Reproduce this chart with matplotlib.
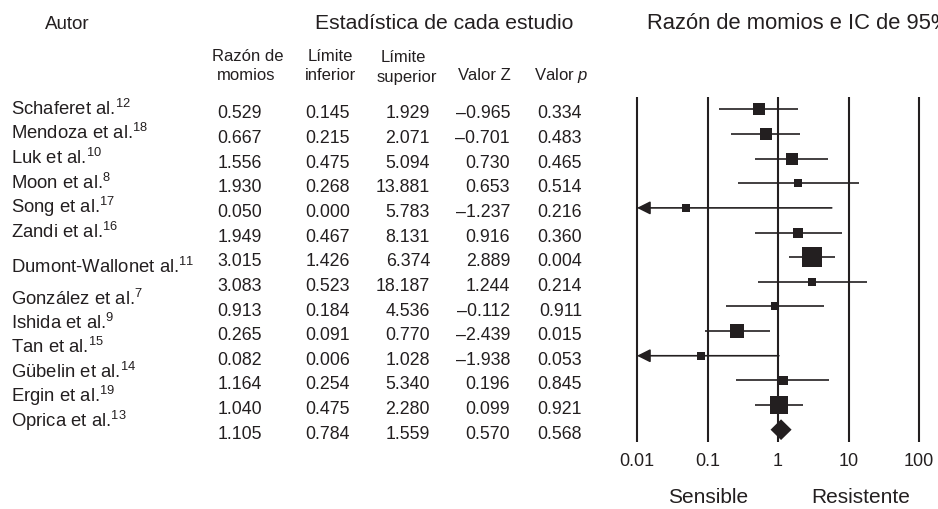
import matplotlib
matplotlib.use("Agg")
import matplotlib.pyplot as plt
from matplotlib.ticker import NullLocator

plt.rcParams['font.family'] = ['Liberation Sans', 'DejaVu Sans']
plt.rcParams['mathtext.fontset'] = 'custom'
plt.rcParams['mathtext.rm'] = 'Liberation Sans'
plt.rcParams['mathtext.it'] = 'Liberation Sans:italic'
plt.rcParams['mathtext.bf'] = 'Liberation Sans:bold'

# ---------------- data ----------------
authors = ["Schaferet al.", "Mendoza et al.", "Luk et al.", "Moon et al.",
           "Song et al.", "Zandi et al.", "Dumont-Wallonet al.", "González et al.",
           "Ishida et al.", "Tan et al.", "Gübelin et al.", "Ergin et al.",
           "Oprica et al."]
refs = ["12", "18", "10", "8", "17", "16", "11", "7", "9", "15", "14", "19", "13"]

odds_ratio = [0.529, 0.667, 1.556, 1.930, 0.050, 1.949, 3.015, 3.083, 0.913,
              0.265, 0.082, 1.164, 1.040, 1.105]
lower_limit = [0.145, 0.215, 0.475, 0.268, 0.000, 0.467, 1.426, 0.523, 0.184,
               0.091, 0.006, 0.254, 0.475, 0.784]
upper_limit = [1.929, 2.071, 5.094, 13.881, 5.783, 8.131, 6.374, 18.187, 4.536,
               0.770, 1.028, 5.340, 2.280, 1.559]
z_value = [-0.965, -0.701, 0.730, 0.653, -1.237, 0.916, 2.889, 1.244, -0.112,
           -2.439, -1.938, 0.196, 0.099, 0.570]
p_value = [0.334, 0.483, 0.465, 0.514, 0.216, 0.360, 0.004, 0.214, 0.911,
           0.015, 0.053, 0.845, 0.921, 0.568]

x_ticks = [0.01, 0.1, 1, 10, 100]
x_tick_labels = ["0.01", "0.1", "1", "10", "100"]

# ---------------- style / layout ----------------
INK = "#231f20"
W, H = 938, 509
ROW0, ROWH = 109.3, 24.65
marker_px = [11.3, 12.3, 12.3, 8, 8.7, 10, 19.3, 7.7, 8.3, 13.3, 8.3, 9, 18.3]
label_rows = [0, 1, 2, 3, 4, 5, 6.4, 7.7, 8.67, 9.66, 10.68, 11.66, 12.67]


def fx(px):
    return px / W


def fy(py):
    return 1 - py / H


def fmt(v):
    return f"{v:.3f}".replace("-", "\u2013")


fig = plt.figure(figsize=(W / 100, H / 100), dpi=100)

# ---------------- headers ----------------
fig.text(fx(67.5), fy(29.3), "Autor", ha="center", va="baseline", fontsize=13.5, color=INK)
fig.text(fx(444), fy(29.3), "Estadística de cada estudio", ha="center", va="baseline",
         fontsize=15.2, color=INK)
fig.text(fx(647), fy(29.3), "Razón de momios e IC de 95%", ha="left", va="baseline",
         fontsize=15.8, color=INK)

hs = 12
fig.text(fx(248), fy(60.7), "Razón de", ha="center", va="baseline", fontsize=hs, color=INK)
fig.text(fx(246), fy(80), "momios", ha="center", va="baseline", fontsize=hs, color=INK)
fig.text(fx(330), fy(60.7), "Límite", ha="center", va="baseline", fontsize=hs, color=INK)
fig.text(fx(330), fy(80), "inferior", ha="center", va="baseline", fontsize=hs, color=INK)
fig.text(fx(403), fy(62.5), "Límite", ha="center", va="baseline", fontsize=hs, color=INK)
fig.text(fx(407), fy(81.7), "superior", ha="center", va="baseline", fontsize=hs, color=INK)
fig.text(fx(484), fy(80), "Valor Z", ha="center", va="baseline", fontsize=hs, color=INK)
fig.text(fx(561), fy(80), "Valor $p$", ha="center", va="baseline", fontsize=hs, color=INK)

# ---------------- author labels ----------------
for name, ref, r in zip(authors, refs, label_rows):
    yb = ROW0 + ROWH * r + 5.5
    fig.text(fx(11), fy(yb), f"{name}$^{{{ref}}}$", ha="left", va="baseline",
             fontsize=13.3, color=INK)

# ---------------- numeric columns ----------------
col_right = [262, 350, 430, 510, 582]
columns = [odds_ratio, lower_limit, upper_limit, z_value, p_value]
for xr, col in zip(col_right, columns):
    for i, v in enumerate(col):
        yb = ROW0 + ROWH * i + 9
        fig.text(fx(xr), fy(yb), fmt(v), ha="right", va="baseline",
                 fontsize=12.8, color=INK)

# ---------------- forest plot ----------------
ax = fig.add_axes([fx(637), fy(442), 282 / W, 345 / H])
ax.set_xscale("log")
ax.set_xlim(x_ticks[0], x_ticks[-1])
n = len(odds_ratio)
ax.set_ylim(n - 0.5, -0.5)
ax.vlines(x_ticks, -0.5, n - 0.5, color=INK, lw=1.5, clip_on=False, zorder=1)

for i in range(n - 1):
    lo, up, orv = lower_limit[i], upper_limit[i], odds_ratio[i]
    if lo < x_ticks[0]:
        ax.annotate("", xy=(x_ticks[0], i), xytext=(up, i),
                    arrowprops=dict(arrowstyle="-|>", color=INK, lw=1.2,
                                    mutation_scale=20, shrinkA=0, shrinkB=0),
                    annotation_clip=False, zorder=2)
    else:
        ax.plot([lo, up], [i, i], color=INK, lw=1.2, zorder=2, solid_capstyle="butt")
    ax.plot([orv], [i], marker="s", ms=marker_px[i] * 0.72, color=INK, mec=INK,
            mew=0, zorder=3, linestyle="none")

# pooled estimate (diamond)
k = n - 1
half_h = 0.42
ax.fill([lower_limit[k], odds_ratio[k], upper_limit[k], odds_ratio[k]],
        [k, k - half_h, k, k + half_h], color=INK, lw=0, zorder=3)

for s in ax.spines.values():
    s.set_visible(False)
ax.set_yticks([])
ax.set_xticks(x_ticks)
ax.set_xticklabels(x_tick_labels)
ax.xaxis.set_minor_locator(NullLocator())
ax.tick_params(axis="x", length=0, pad=8, labelsize=13, colors=INK)
ax.patch.set_alpha(0)

fig.text(fx(708), fy(502.7), "Sensible", ha="center", va="baseline", fontsize=15, color=INK)
fig.text(fx(861), fy(502.7), "Resistente", ha="center", va="baseline", fontsize=15, color=INK)

fig.savefig("out.png", dpi=100)
